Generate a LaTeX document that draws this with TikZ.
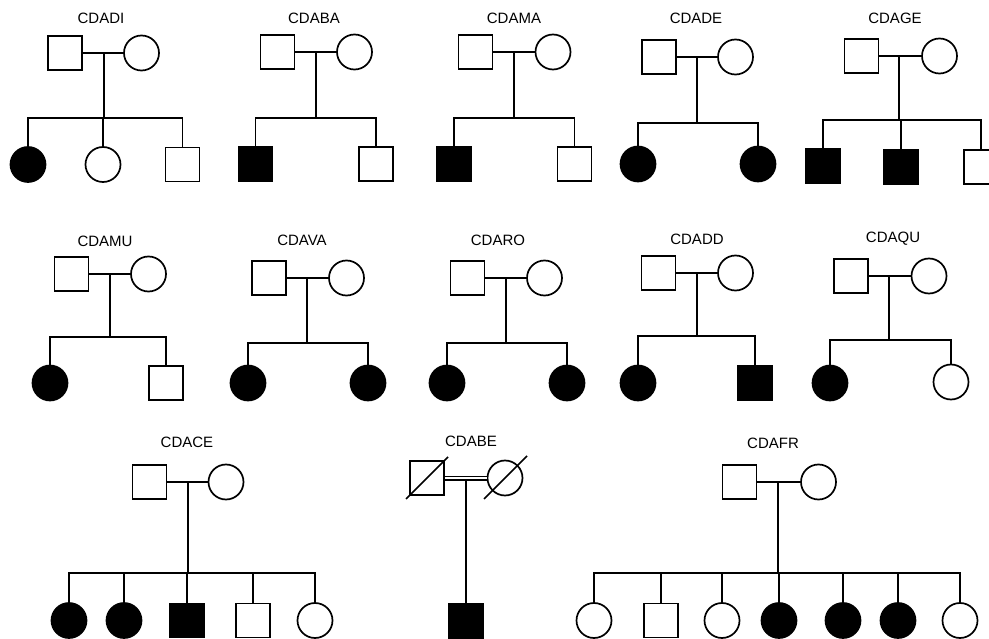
\documentclass[tikz,border=0pt]{standalone}
\usepackage{fontspec}
\setmainfont{Liberation Sans}
\begin{document}
\begin{tikzpicture}[x=1pt,y=-1pt,
  lw/.style={line width=1.7pt},
  male/.style={draw,lw,rectangle,minimum size=34pt,inner sep=0pt,fill=white},
  female/.style={draw,lw,circle,minimum size=35pt,inner sep=0pt,fill=white},
  aff/.style={fill=black},
  lab/.style={font=\fontsize{15}{17}\selectfont,inner sep=0pt},
  ln/.style={lw,line cap=rect}]
\useasboundingbox (0,0) rectangle (989,639);
\clip (0,0) rectangle (989,639);

% ---------- CDADI ----------
\node[lab] (l1) at (101,18) {CDADI};
\node[male] (f1) at (65,53) {};
\node[female] (m1) at (141.5,53) {};
\coordinate (d1) at (104,53);
\coordinate (s1) at (104,118);
\node[female,aff] (c1a) at (28,164.5) {};
\node[female] (c1b) at (103,164.5) {};
\node[male] (c1c) at (182.5,164.5) {};
\draw[lw] (f1.east) -- (m1.west);
\draw[lw] (d1) -- (s1);
\draw[ln] (c1a |- s1) -- (c1c |- s1);
\foreach \c in {c1a,c1b,c1c} \draw[lw] (\c.north) -- (\c |- s1);

% ---------- CDABA ----------
\node[lab] (l2) at (314,18) {CDABA};
\node[male] (f2) at (277.5,52) {};
\node[female] (m2) at (354.5,52) {};
\coordinate (d2) at (316,52);
\coordinate (s2) at (316,118);
\node[male,aff] (c2a) at (255.5,164) {};
\node[male] (c2b) at (376,164) {};
\draw[lw] (f2.east) -- (m2.west);
\draw[lw] (d2) -- (s2);
\draw[ln] (c2a |- s2) -- (c2b |- s2);
\foreach \c in {c2a,c2b} \draw[lw] (\c.north) -- (\c |- s2);

% ---------- CDAMA ----------
\node[lab] (l3) at (514,18) {CDAMA};
\node[male] (f3) at (475.5,52) {};
\node[female] (m3) at (553,52) {};
\coordinate (d3) at (514,52);
\coordinate (s3) at (514,118);
\node[male,aff] (c3a) at (454,164) {};
\node[male] (c3b) at (574.5,164) {};
\draw[lw] (f3.east) -- (m3.west);
\draw[lw] (d3) -- (s3);
\draw[ln] (c3a |- s3) -- (c3b |- s3);
\foreach \c in {c3a,c3b} \draw[lw] (\c.north) -- (\c |- s3);

% ---------- CDADE ----------
\node[lab] (l4) at (696,18) {CDADE};
\node[male] (f4) at (659,57) {};
\node[female] (m4) at (735.5,57) {};
\coordinate (d4) at (697,57);
\coordinate (s4) at (697,123);
\node[female,aff] (c4a) at (638,164) {};
\node[female,aff] (c4b) at (758,164) {};
\draw[lw] (f4.east) -- (m4.west);
\draw[lw] (d4) -- (s4);
\draw[ln] (c4a |- s4) -- (c4b |- s4);
\foreach \c in {c4a,c4b} \draw[lw] (\c.north) -- (\c |- s4);

% ---------- CDAGE ----------
\node[lab] (l5) at (895,18) {CDAGE};
\node[male] (f5) at (861.5,56) {};
\node[female] (m5) at (939.5,56) {};
\coordinate (d5) at (899,56);
\coordinate (s5) at (899,120);
\node[male,aff] (c5a) at (823,166) {};
\node[male,aff] (c5b) at (901,167) {};
\node[male] (c5c) at (981,167) {};
\draw[lw] (f5.east) -- (m5.west);
\draw[lw] (d5) -- (s5);
\draw[ln] (c5a |- s5) -- (c5c |- s5);
\foreach \c in {c5a,c5b,c5c} \draw[lw] (\c.north) -- (\c |- s5);

% ---------- CDAMU ----------
\node[lab] (l6) at (105,241) {CDAMU};
\node[male] (f6) at (71.5,274) {};
\node[female] (m6) at (148.5,274) {};
\coordinate (d6) at (110,274);
\coordinate (s6) at (110,337);
\node[female,aff] (c6a) at (50,383) {};
\node[male] (c6b) at (166,383) {};
\draw[lw] (f6.east) -- (m6.west);
\draw[lw] (d6) -- (s6);
\draw[ln] (c6a |- s6) -- (c6b |- s6);
\foreach \c in {c6a,c6b} \draw[lw] (\c.north) -- (\c |- s6);

% ---------- CDAVA ----------
\node[lab] (l7) at (302,240) {CDAVA};
\node[male] (f7) at (269,278) {};
\node[female] (m7) at (346.5,278) {};
\coordinate (d7) at (307,278);
\coordinate (s7) at (307,343);
\node[female,aff] (c7a) at (248,383) {};
\node[female,aff] (c7b) at (368,383) {};
\draw[lw] (f7.east) -- (m7.west);
\draw[lw] (d7) -- (s7);
\draw[ln] (c7a |- s7) -- (c7b |- s7);
\foreach \c in {c7a,c7b} \draw[lw] (\c.north) -- (\c |- s7);

% ---------- CDARO ----------
\node[lab] (l8) at (498,240) {CDARO};
\node[male] (f8) at (467.5,278) {};
\node[female] (m8) at (544.5,278) {};
\coordinate (d8) at (506,278);
\coordinate (s8) at (506,343);
\node[female,aff] (c8a) at (447,383) {};
\node[female,aff] (c8b) at (567,383) {};
\draw[lw] (f8.east) -- (m8.west);
\draw[lw] (d8) -- (s8);
\draw[ln] (c8a |- s8) -- (c8b |- s8);
\foreach \c in {c8a,c8b} \draw[lw] (\c.north) -- (\c |- s8);

% ---------- CDADD ----------
\node[lab] (l9) at (697,239) {CDADD};
\node[male] (f9) at (658.5,273) {};
\node[female] (m9) at (735.5,273) {};
\coordinate (d9) at (697,273);
\coordinate (s9) at (697,336);
\node[female,aff] (c9a) at (638,383) {};
\node[male,aff] (c9b) at (755,383) {};
\draw[lw] (f9.east) -- (m9.west);
\draw[lw] (d9) -- (s9);
\draw[ln] (c9a |- s9) -- (c9b |- s9);
\foreach \c in {c9a,c9b} \draw[lw] (\c.north) -- (\c |- s9);

% ---------- CDAQU ----------
\node[lab] (l10) at (893,239) {CDAQU};
\node[male] (f10) at (851,276) {};
\node[female] (m10) at (929,276) {};
\coordinate (d10) at (889,276);
\coordinate (s10) at (889,340);
\node[female,aff] (c10a) at (830,383) {};
\node[female] (c10b) at (951,382) {};
\draw[lw] (f10.east) -- (m10.west);
\draw[lw] (d10) -- (s10);
\draw[ln] (c10a |- s10) -- (c10b |- s10);
\foreach \c in {c10a,c10b} \draw[lw] (\c.north) -- (\c |- s10);

% ---------- CDACE ----------
\node[lab] (l11) at (187,442) {CDACE};
\node[male] (f11) at (149.5,482) {};
\node[female] (m11) at (226,482) {};
\coordinate (d11) at (188,482);
\coordinate (s11) at (188,573);
\node[female,aff] (c11a) at (69,620.5) {};
\node[female,aff] (c11b) at (124,620.5) {};
\node[male,aff] (c11c) at (187,620.5) {};
\node[male] (c11d) at (253,620.5) {};
\node[female] (c11e) at (315,620.5) {};
\draw[lw] (f11.east) -- (m11.west);
\draw[lw] (d11) -- (s11);
\draw[ln] (c11a |- s11) -- (c11e |- s11);
\foreach \c in {c11a,c11b,c11c,c11d,c11e} \draw[lw] (\c.north) -- (\c |- s11);

% ---------- CDABE ----------
\node[lab] (l12) at (471,441) {CDABE};
\node[male] (f12) at (427,478) {};
\node[female] (m12) at (505,478) {};
\draw[lw] (f12.center) ++(-21,21) -- ++(42,-42);
\draw[lw] (m12.center) ++(-21,21) -- ++(43,-43);
\draw[line width=1.3pt,double,double distance=2.4pt] (f12.east) -- (m12.west);
\node[male,aff] (c12a) at (466,621) {};
\coordinate (d12) at (466,480);
\draw[lw] (d12) -- (c12a.north);

% ---------- CDAFR ----------
\node[lab] (l13) at (773,443) {CDAFR};
\node[male] (f13) at (739.5,482) {};
\node[female] (m13) at (818.5,482) {};
\coordinate (d13) at (778,482);
\coordinate (s13) at (778,573);
\node[female] (c13a) at (594,620.5) {};
\node[male] (c13b) at (661,620.5) {};
\node[female] (c13c) at (722,620.5) {};
\node[female,aff] (c13d) at (779,620.5) {};
\node[female,aff] (c13e) at (843,620.5) {};
\node[female,aff] (c13f) at (898,620.5) {};
\node[female] (c13g) at (960,620.5) {};
\draw[lw] (f13.east) -- (m13.west);
\draw[lw] (d13) -- (s13);
\draw[ln] (c13a |- s13) -- (c13g |- s13);
\foreach \c in {c13a,c13b,c13c,c13d,c13e,c13f,c13g} \draw[lw] (\c.north) -- (\c |- s13);
\end{tikzpicture}
\end{document}
